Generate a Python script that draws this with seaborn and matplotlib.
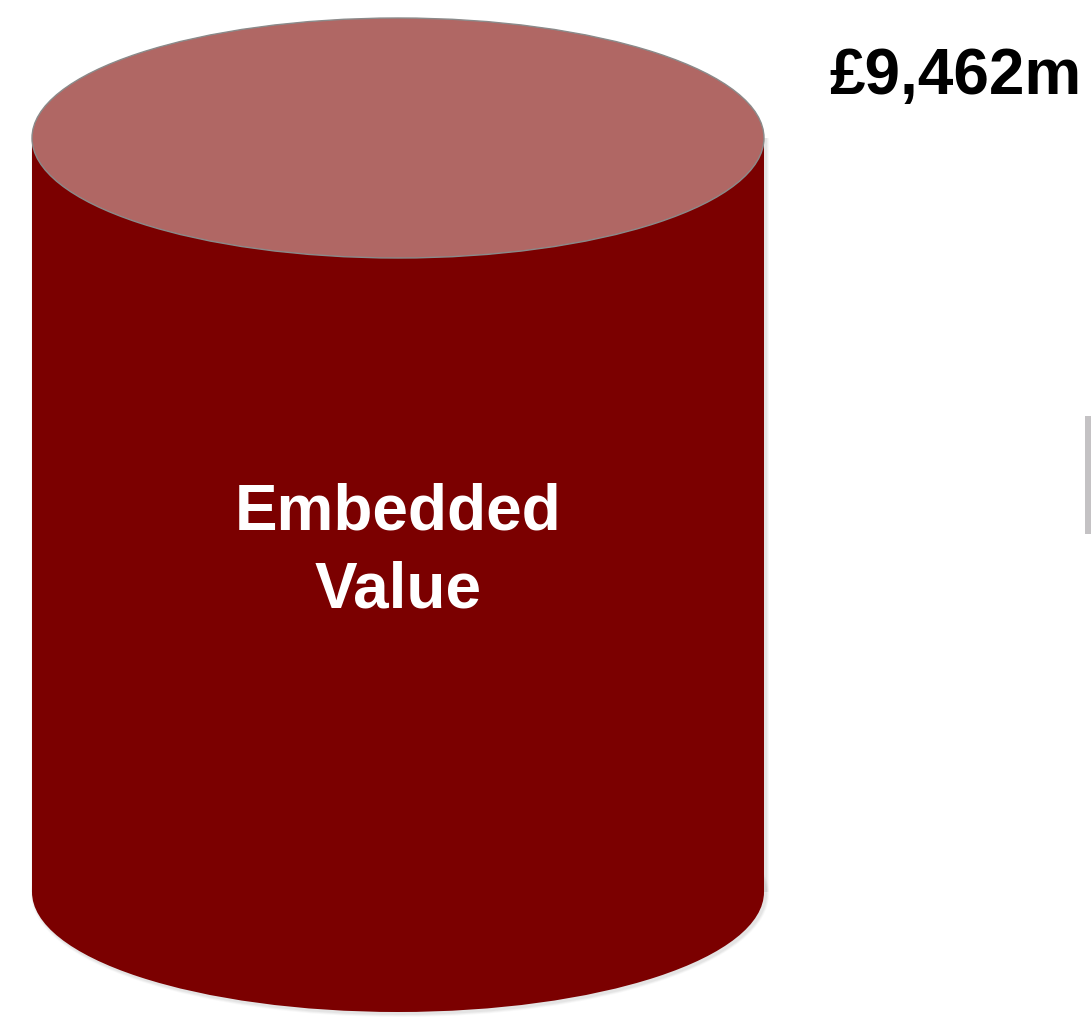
import matplotlib
matplotlib.use("Agg")
import matplotlib.pyplot as plt
from matplotlib.patches import Ellipse, Rectangle
import seaborn as sns

sns.set_theme(style="white")
plt.rcParams["font.family"] = ["Liberation Sans", "DejaVu Sans"]

# Chart data
labels = ["Embedded\nValue"]
values = [9462]
value_labels = ["£9,462m"]

body_color = "#7b0000"
top_color = "#b06764"

fig = plt.figure(figsize=(10.91, 10.17), dpi=100)
ax = fig.add_axes([0, 0, 1, 1])
ax.set_xlim(0, 1091)
ax.set_ylim(1017, 0)
ax.axis("off")

cx, rx, ry = 398, 366, 120
top_y, bot_y = 138, 892

# soft shadow below the body
for i, a in enumerate([0.05, 0.07, 0.09]):
    off = 6 - 2 * i
    ax.add_patch(Ellipse((cx + 2, bot_y + 2), 2 * rx + off, 2 * ry + off,
                         facecolor="#808080", edgecolor="none", alpha=a, zorder=1))
    ax.add_patch(Rectangle((cx - rx - off / 2 + 2, top_y), 2 * rx + off, bot_y - top_y,
                           facecolor="#808080", edgecolor="none", alpha=a, zorder=1))

# cylinder body
ax.add_patch(Ellipse((cx, bot_y), 2 * rx, 2 * ry, facecolor=body_color,
                     edgecolor="none", zorder=2))
ax.add_patch(Rectangle((cx - rx, top_y), 2 * rx, bot_y - top_y,
                       facecolor=body_color, edgecolor="none", zorder=2))
# cylinder top
ax.add_patch(Ellipse((cx, top_y), 2 * rx, 2 * ry, facecolor=top_color,
                     edgecolor="#8a8a8a", linewidth=1.0, zorder=3))

for j, line in enumerate(labels[0].split("\n")):
    ax.text(cx, 513 + 77 * j, line, color="white", fontsize=46, fontweight="bold",
            ha="center", va="center", zorder=4)
ax.text(955, 77, value_labels[0], color="black", fontsize=46, fontweight="bold",
        ha="center", va="center", zorder=4)

# thin grey marker at the right edge
ax.add_patch(Rectangle((1085, 416), 6, 118, facecolor="#c4c2c4",
                       edgecolor="none", zorder=2))

fig.savefig("out.png", dpi=100)
